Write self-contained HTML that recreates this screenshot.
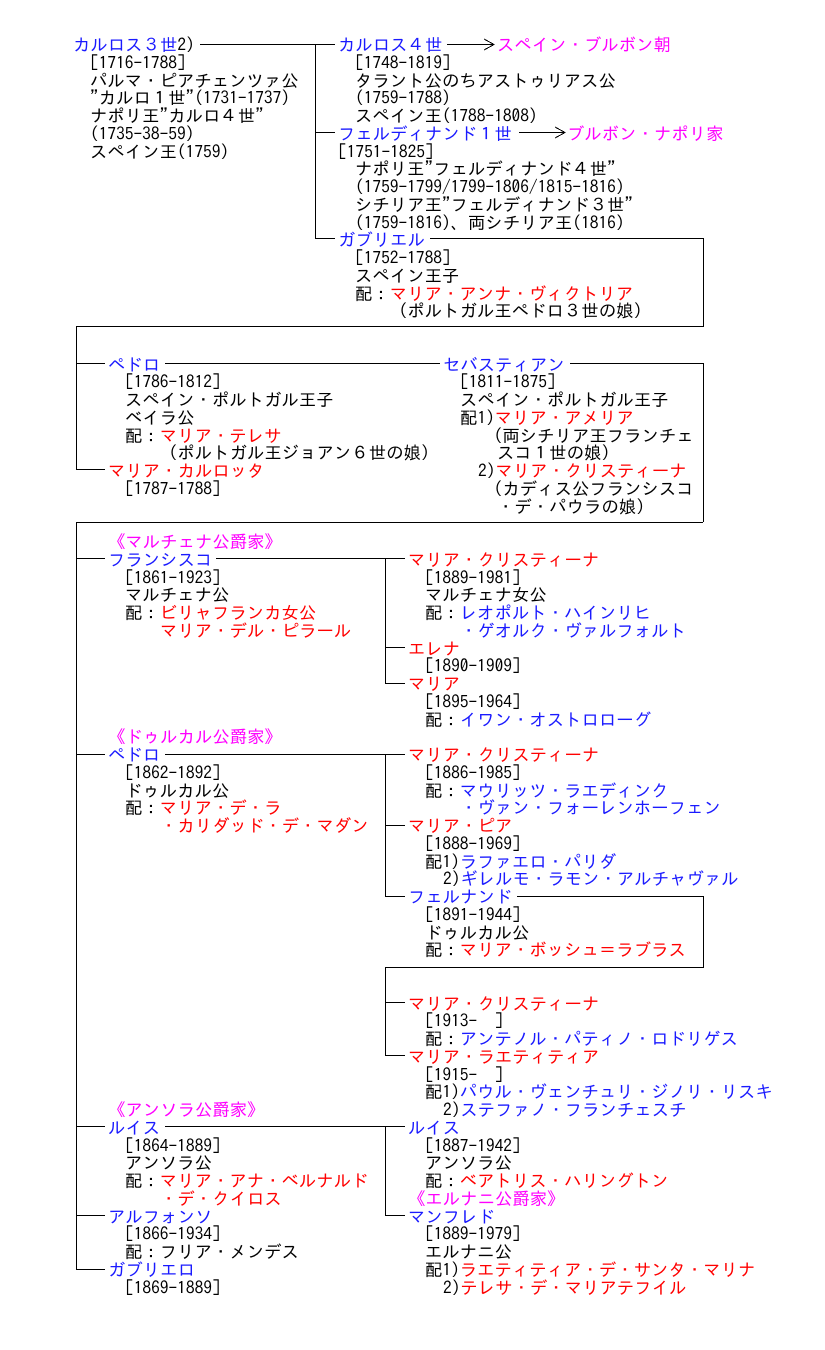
<!DOCTYPE html>
<html><head><meta charset="utf-8">
<style>
html,body{margin:0;padding:0;background:#fff;}
body{width:825px;height:1350px;position:relative;overflow:hidden;}
.t{position:absolute;white-space:pre;font-family:"IPAGothic","Noto Sans CJK JP",monospace;font-size:17.4px;line-height:18px;color:#000;margin-top:2px;}
.b{color:#1a1aff}.r{color:#ff0000}.m{color:#ff00ff}
svg{position:absolute;left:0;top:0}
</style></head><body>
<svg width="825" height="1350" shape-rendering="crispEdges" stroke="#000" stroke-width="1" fill="none">
<line x1="200" y1="44.5" x2="335" y2="44.5"/>
<line x1="315.5" y1="44" x2="315.5" y2="239"/>
<line x1="315" y1="132.5" x2="335" y2="132.5"/>
<line x1="315" y1="238.5" x2="335" y2="238.5"/>
<line x1="447" y1="44.5" x2="494" y2="44.5"/>
<polyline points="484,39 494,44.5 484,50"/>
<line x1="519" y1="132.5" x2="565" y2="132.5"/>
<polyline points="555,127 565,132.5 555,138"/>
<line x1="430" y1="238.5" x2="703" y2="238.5"/>
<line x1="703.5" y1="238" x2="703.5" y2="327"/>
<line x1="76" y1="326.5" x2="703" y2="326.5"/>
<line x1="76.5" y1="326" x2="76.5" y2="470"/>
<line x1="76" y1="363.5" x2="105" y2="363.5"/>
<line x1="165" y1="363.5" x2="440" y2="363.5"/>
<line x1="570" y1="363.5" x2="703" y2="363.5"/>
<line x1="703.5" y1="363" x2="703.5" y2="522"/>
<line x1="76" y1="522.5" x2="703" y2="522.5"/>
<line x1="76" y1="469.5" x2="105" y2="469.5"/>
<line x1="76.5" y1="522" x2="76.5" y2="1270"/>
<line x1="76" y1="558.5" x2="105" y2="558.5"/>
<line x1="216" y1="558.5" x2="405" y2="558.5"/>
<line x1="385.5" y1="558" x2="385.5" y2="684"/>
<line x1="385" y1="647.5" x2="405" y2="647.5"/>
<line x1="385" y1="683.5" x2="405" y2="683.5"/>
<line x1="76" y1="754.5" x2="105" y2="754.5"/>
<line x1="165" y1="754.5" x2="405" y2="754.5"/>
<line x1="385.5" y1="754" x2="385.5" y2="897"/>
<line x1="385" y1="825.5" x2="405" y2="825.5"/>
<line x1="385" y1="896.5" x2="405" y2="896.5"/>
<line x1="517" y1="896.5" x2="703" y2="896.5"/>
<line x1="703.5" y1="896" x2="703.5" y2="968"/>
<line x1="385" y1="967.5" x2="703" y2="967.5"/>
<line x1="385.5" y1="967" x2="385.5" y2="1056"/>
<line x1="385" y1="1002.5" x2="405" y2="1002.5"/>
<line x1="385" y1="1055.5" x2="405" y2="1055.5"/>
<line x1="76" y1="1126.5" x2="105" y2="1126.5"/>
<line x1="165" y1="1126.5" x2="405" y2="1126.5"/>
<line x1="385.5" y1="1126" x2="385.5" y2="1216"/>
<line x1="385" y1="1215.5" x2="405" y2="1215.5"/>
<line x1="76" y1="1215.5" x2="105" y2="1215.5"/>
<line x1="76" y1="1269.5" x2="105" y2="1269.5"/>
</svg>

<div class="t b" style="left:73px;top:35px">カルロス３世<span style="color:#000">2)</span></div>
<div class="t" style="left:90px;top:52.75px">[1716-1788]</div>
<div class="t" style="left:90px;top:70.5px">パルマ・ピアチェンツァ公</div>
<div class="t" style="left:90px;top:88.25px">"カルロ１世"(1731-1737)</div>
<div class="t" style="left:90px;top:106px">ナポリ王"カルロ４世"</div>
<div class="t" style="left:90px;top:123.75px">(1735-38-59)</div>
<div class="t" style="left:90px;top:141.5px">スペイン王(1759)</div>

<div class="t b" style="left:338px;top:35px">カルロス４世</div>
<div class="t m" style="left:497px;top:35px">スペイン・ブルボン朝</div>
<div class="t" style="left:355px;top:52.75px">[1748-1819]</div>
<div class="t" style="left:355px;top:70.5px">タラント公のちアストゥリアス公</div>
<div class="t" style="left:355px;top:88.25px">(1759-1788)</div>
<div class="t" style="left:355px;top:106px">スペイン王(1788-1808)</div>
<div class="t b" style="left:338px;top:123.75px">フェルディナンド１世</div>
<div class="t m" style="left:567px;top:123.75px">ブルボン・ナポリ家</div>
<div class="t" style="left:338px;top:141.5px">[1751-1825]</div>
<div class="t" style="left:355px;top:159.25px">ナポリ王"フェルディナンド４世"</div>
<div class="t" style="left:355px;top:177px">(1759-1799/1799-1806/1815-1816)</div>
<div class="t" style="left:355px;top:194.75px">シチリア王"フェルディナンド３世"</div>
<div class="t" style="left:355px;top:212.5px">(1759-1816)、両シチリア王(1816)</div>
<div class="t b" style="left:338px;top:230.25px">ガブリエル</div>
<div class="t" style="left:355px;top:248px">[1752-1788]</div>
<div class="t" style="left:355px;top:265.75px">スペイン王子</div>
<div class="t" style="left:355px;top:283.5px">配：<span class="r">マリア・アンナ・ヴィクトリア</span></div>
<div class="t" style="left:390px;top:301.25px">（ポルトガル王ペドロ３世の娘）</div>

<div class="t b" style="left:108px;top:354.5px">ペドロ</div>
<div class="t" style="left:125px;top:372.25px">[1786-1812]</div>
<div class="t" style="left:125px;top:390px">スペイン・ポルトガル王子</div>
<div class="t" style="left:125px;top:407.75px">ベイラ公</div>
<div class="t" style="left:125px;top:425.5px">配：<span class="r">マリア・テレサ</span></div>
<div class="t" style="left:160px;top:443.25px">（ポルトガル王ジョアン６世の娘）</div>
<div class="t r" style="left:108px;top:461px">マリア・カルロッタ</div>
<div class="t" style="left:125px;top:478.75px">[1787-1788]</div>

<div class="t b" style="left:443px;top:354.5px">セバスティアン</div>
<div class="t" style="left:460px;top:372.25px">[1811-1875]</div>
<div class="t" style="left:460px;top:390px">スペイン・ポルトガル王子</div>
<div class="t" style="left:460px;top:407.75px">配1)<span class="r">マリア・アメリア</span></div>
<div class="t" style="left:485px;top:425.5px">（両シチリア王フランチェ</div>
<div class="t" style="left:497px;top:443.25px">スコ１世の娘）</div>
<div class="t" style="left:478px;top:461px">2)<span class="r">マリア・クリスティーナ</span></div>
<div class="t" style="left:485px;top:478.75px">（カディス公フランシスコ</div>
<div class="t" style="left:497px;top:496.5px">・デ・パウラの娘）</div>

<div class="t m" style="left:108px;top:532px">《マルチェナ公爵家》</div>
<div class="t b" style="left:108px;top:549.75px">フランシスコ</div>
<div class="t" style="left:125px;top:567.5px">[1861-1923]</div>
<div class="t" style="left:125px;top:585.25px">マルチェナ公</div>
<div class="t" style="left:125px;top:603px">配：<span class="r">ビリャフランカ女公</span></div>
<div class="t r" style="left:160px;top:620.75px">マリア・デル・ピラール</div>

<div class="t r" style="left:408px;top:549.75px">マリア・クリスティーナ</div>
<div class="t" style="left:425px;top:567.5px">[1889-1981]</div>
<div class="t" style="left:425px;top:585.25px">マルチェナ女公</div>
<div class="t" style="left:425px;top:603px">配：<span class="b">レオポルト・ハインリヒ</span></div>
<div class="t b" style="left:460px;top:620.75px">・ゲオルク・ヴァルフォルト</div>
<div class="t r" style="left:408px;top:638.5px">エレナ</div>
<div class="t" style="left:425px;top:656.25px">[1890-1909]</div>
<div class="t r" style="left:408px;top:674px">マリア</div>
<div class="t" style="left:425px;top:691.75px">[1895-1964]</div>
<div class="t" style="left:425px;top:709.5px">配：<span class="b">イワン・オストロローグ</span></div>

<div class="t m" style="left:108px;top:727.25px">《ドゥルカル公爵家》</div>
<div class="t b" style="left:108px;top:745px">ペドロ</div>
<div class="t" style="left:125px;top:762.75px">[1862-1892]</div>
<div class="t" style="left:125px;top:780.5px">ドゥルカル公</div>
<div class="t" style="left:125px;top:798.25px">配：<span class="r">マリア・デ・ラ</span></div>
<div class="t r" style="left:160px;top:816px">・カリダッド・デ・マダン</div>

<div class="t r" style="left:408px;top:745px">マリア・クリスティーナ</div>
<div class="t" style="left:425px;top:762.75px">[1886-1985]</div>
<div class="t" style="left:425px;top:780.5px">配：<span class="b">マウリッツ・ラエディンク</span></div>
<div class="t b" style="left:460px;top:798.25px">・ヴァン・フォーレンホーフェン</div>
<div class="t r" style="left:408px;top:816px">マリア・ピア</div>
<div class="t" style="left:425px;top:833.75px">[1888-1969]</div>
<div class="t" style="left:425px;top:851.5px">配1)<span class="b">ラファエロ・パリダ</span></div>
<div class="t" style="left:443px;top:869.25px">2)<span class="b">ギレルモ・ラモン・アルチャヴァル</span></div>
<div class="t b" style="left:408px;top:887px">フェルナンド</div>
<div class="t" style="left:425px;top:904.75px">[1891-1944]</div>
<div class="t" style="left:425px;top:922.5px">ドゥルカル公</div>
<div class="t" style="left:425px;top:940.25px">配：<span class="r">マリア・ボッシュ＝ラブラス</span></div>

<div class="t r" style="left:408px;top:993.5px">マリア・クリスティーナ</div>
<div class="t" style="left:425px;top:1011.25px">[1913-  ]</div>
<div class="t" style="left:425px;top:1029px">配：<span class="b">アンテノル・パティノ・ロドリゲス</span></div>
<div class="t r" style="left:408px;top:1046.75px">マリア・ラエティティア</div>
<div class="t" style="left:425px;top:1064.5px">[1915-  ]</div>
<div class="t" style="left:425px;top:1082.25px">配1)<span class="b">パウル・ヴェンチュリ・ジノリ・リスキ</span></div>
<div class="t" style="left:443px;top:1100px">2)<span class="b">ステファノ・フランチェスチ</span></div>

<div class="t m" style="left:108px;top:1100px">《アンソラ公爵家》</div>
<div class="t b" style="left:108px;top:1117.75px">ルイス</div>
<div class="t" style="left:125px;top:1135.5px">[1864-1889]</div>
<div class="t" style="left:125px;top:1153.25px">アンソラ公</div>
<div class="t" style="left:125px;top:1171px">配：<span class="r">マリア・アナ・ベルナルド</span></div>
<div class="t r" style="left:160px;top:1188.75px">・デ・クイロス</div>
<div class="t b" style="left:108px;top:1206.5px">アルフォンソ</div>
<div class="t" style="left:125px;top:1224.25px">[1866-1934]</div>
<div class="t" style="left:125px;top:1242px">配：フリア・メンデス</div>
<div class="t b" style="left:108px;top:1259.75px">ガブリエロ</div>
<div class="t" style="left:125px;top:1277.5px">[1869-1889]</div>

<div class="t b" style="left:408px;top:1117.75px">ルイス</div>
<div class="t" style="left:425px;top:1135.5px">[1887-1942]</div>
<div class="t" style="left:425px;top:1153.25px">アンソラ公</div>
<div class="t" style="left:425px;top:1171px">配：<span class="r">ベアトリス・ハリングトン</span></div>
<div class="t m" style="left:408px;top:1188.75px">《エルナニ公爵家》</div>
<div class="t b" style="left:408px;top:1206.5px">マンフレド</div>
<div class="t" style="left:425px;top:1224.25px">[1889-1979]</div>
<div class="t" style="left:425px;top:1242px">エルナニ公</div>
<div class="t" style="left:425px;top:1259.75px">配1)<span class="r">ラエティティア・デ・サンタ・マリナ</span></div>
<div class="t" style="left:443px;top:1277.5px">2)<span class="r">テレサ・デ・マリアテフイル</span></div>
</body></html>
